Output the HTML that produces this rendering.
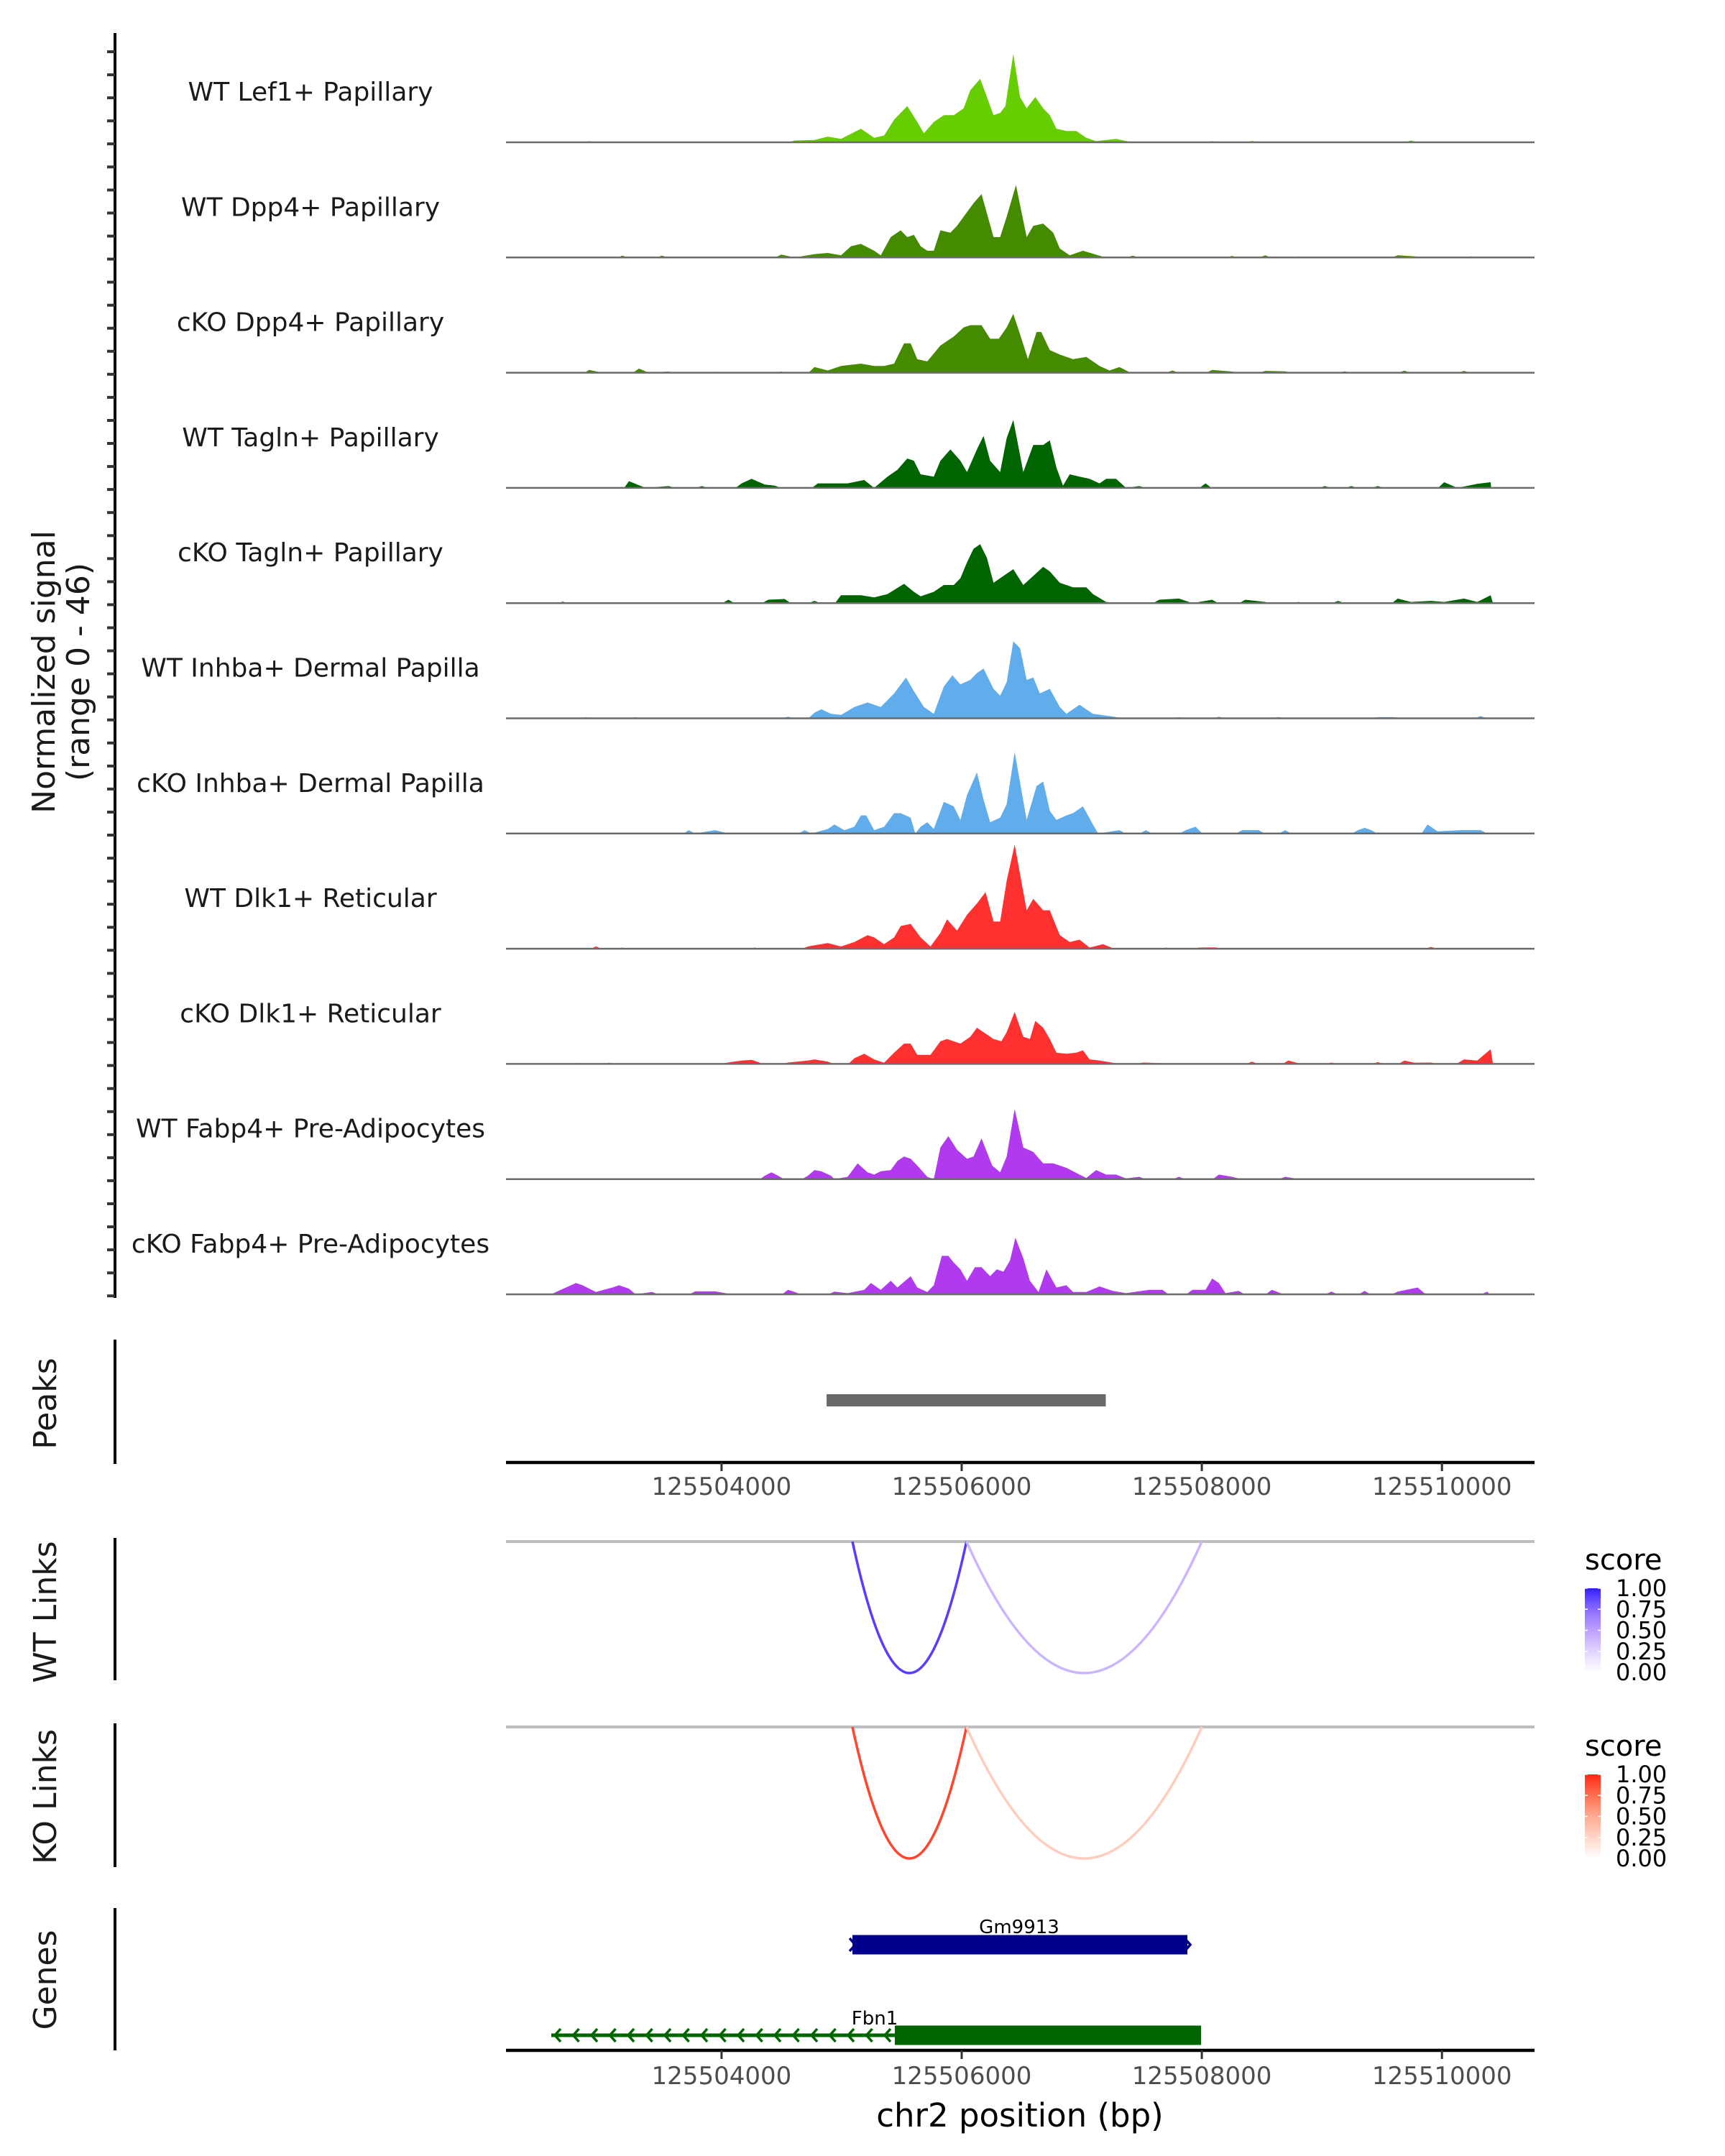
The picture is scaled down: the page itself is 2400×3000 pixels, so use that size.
<!DOCTYPE html>
<html><head><meta charset="utf-8"><style>
html,body{margin:0;padding:0;background:#fff;}
svg{display:block;font-family:"DejaVu Sans","Liberation Sans",sans-serif;}
</style></head><body>
<svg id="chart" width="2400" height="3000" viewBox="0 0 2400 3000" xmlns="http://www.w3.org/2000/svg">
<rect width="2400" height="3000" fill="#fff"/>
<g id="tracks"></g>
<g id="axes"></g>
<text transform="translate(76,935) rotate(-90)" text-anchor="middle" font-size="44" fill="#1a1a1a">Normalized signal</text>
<text transform="translate(124,935) rotate(-90)" text-anchor="middle" font-size="44" fill="#1a1a1a">(range 0 - 46)</text>
<text transform="translate(78,1953) rotate(-90)" text-anchor="middle" font-size="44" fill="#1a1a1a">Peaks</text>
<text transform="translate(78,2243) rotate(-90)" text-anchor="middle" font-size="44" fill="#1a1a1a">WT Links</text>
<text transform="translate(78,2500) rotate(-90)" text-anchor="middle" font-size="44" fill="#1a1a1a">KO Links</text>
<text transform="translate(78,2755) rotate(-90)" text-anchor="middle" font-size="44" fill="#1a1a1a">Genes</text>
<text x="1419" y="2959" text-anchor="middle" font-size="45" fill="#000">chr2 position (bp)</text>
</svg>
<script>
// ---- data ----
const trackLabels = ["WT Lef1+ Papillary","WT Dpp4+ Papillary","cKO Dpp4+ Papillary","WT Tagln+ Papillary","cKO Tagln+ Papillary","WT Inhba+ Dermal Papilla","cKO Inhba+ Dermal Papilla","WT Dlk1+ Reticular","cKO Dlk1+ Reticular","WT Fabp4+ Pre-Adipocytes","cKO Fabp4+ Pre-Adipocytes"];
const trackColors = ["#66cd00","#458b00","#458b00","#006400","#006400","#61adec","#61adec","#ff3030","#ff3030","#b23aee","#b23aee"];

const lef1Pos = [125502898,125503836,125504609,125504774,125504885,125504995,125505161,125505271,125505354,125505437,125505547,125505630,125505685,125505768,125505851,125505934,125506016,125506072,125506154,125506210,125506265,125506320,125506364,125506430,125506486,125506541,125506613,125506679,125506734,125506789,125506872,125506955,125507038,125507120,125507286,125507396,125508086,125508418,125509742,125510350,125510405];
const lef1Val = [0.5,0.3,0.8,1,2.5,1.5,6,2,3,10,16,9,4,9,12,12,15,23,28,20,12,13,16,39,20,15,20,15,12,6,5,5,2,0.5,1.5,0.3,0.5,0.6,0.8,0.2,0];

const wtDpp4Pos = [125503174,125503505,125504498,125504609,125504774,125504885,125504995,125505078,125505161,125505271,125505326,125505409,125505492,125505547,125505602,125505658,125505713,125505768,125505823,125505906,125505961,125506016,125506099,125506165,125506265,125506320,125506375,125506452,125506541,125506596,125506679,125506762,125506817,125506900,125507010,125507148,125507424,125507479,125508252,125508528,125508804,125509632,125509798,125510239,125510405];
const wtDpp4Val = [0.8,0.8,1.3,0,1.5,2,1,5,6,3,1,9,12,9,10,5,3,3,12,11,14,18,24,28,9,9,18,32,9,14,15,11,4,1,3,0.8,0.8,0,0.7,1,0.5,1,0.4,0.5,0];

const koDpp4Pos = [125502898,125503008,125503312,125503394,125503560,125503946,125504498,125504774,125504885,125504995,125505161,125505271,125505354,125505437,125505520,125505575,125505630,125505713,125505823,125505934,125506016,125506072,125506127,125506165,125506237,125506309,125506375,125506430,125506486,125506552,125506624,125506662,125506734,125506817,125506927,125507038,125507148,125507231,125507314,125507396,125507755,125508086,125508252,125508528,125508694,125509190,125509687,125510184,125510405];
const koDpp4Val = [1.2,0,1.8,0,0.5,0.4,0.5,2.5,1,3,4,3,3,4,13,13,6,5,12,16,20,21,21,21,15,15,20,26,17,6,18,18,10,8,6,7,3,1,2.5,0.3,1,1.2,0.5,0.8,0.6,0.6,0.9,0.8,0];

const wtTaglnPos = [125503229,125503367,125503560,125503836,125504167,125504250,125504360,125504443,125504802,125504940,125505050,125505188,125505271,125505382,125505464,125505547,125505602,125505658,125505768,125505823,125505906,125505989,125506044,125506127,125506182,125506237,125506320,125506375,125506430,125506513,125506596,125506679,125506734,125506789,125506844,125506900,125506982,125507065,125507148,125507203,125507286,125507369,125507479,125508031,125509025,125509246,125509466,125510018,125510129,125510294,125510405,125510410];
const wtTaglnVal = [3,0,0.8,0.8,2,4,1.5,1,2,2,2,3.5,0,5,8,13,12,6,5,12,17,12,7,17,23,12,7,22,30,7,19,19,21,9,1,6,5,4,2,4,4,0,0.8,2,0.8,0.8,0.8,2.5,0,1.8,2.5,0];

const koTaglnPos = [125502677,125504057,125504388,125504526,125504774,125504995,125505161,125505271,125505382,125505520,125505602,125505658,125505768,125505851,125505934,125505989,125506044,125506099,125506154,125506210,125506265,125506348,125506430,125506513,125506596,125506679,125506734,125506817,125506927,125507038,125507093,125507203,125507314,125507645,125507810,125507921,125508086,125508362,125508528,125508804,125509135,125509632,125509742,125509908,125510018,125510184,125510294,125510405];
const koTaglnVal = [0.6,1.5,1.5,1.8,1,3.5,3.5,2.5,4,8.5,5,3,5,8,8,11,18,24,26,20,9,12,15,8,12,16,14,9,7,7,4,0.5,0,1.5,2,0,1.5,1.5,0.5,0.5,1,2,0.5,1,0.5,2,0.5,3.5];

const wtInhbaPos = [125502870,125503284,125504554,125504774,125504830,125504912,125504995,125505106,125505216,125505326,125505437,125505536,125505602,125505685,125505768,125505851,125505923,125505989,125506072,125506127,125506182,125506265,125506320,125506375,125506430,125506486,125506541,125506596,125506651,125506734,125506817,125506872,125506982,125507093,125507258,125507341,125507810,125508142,125508638,125509466,125509604,125510322,125510377];
const wtInhbaVal = [0.5,0.5,0.7,2.5,4,2,1.5,5,7,5,11,18,12,5,2,14,19,15,17,20,22,13,10,16,34,31,17,18,11,13,5,2,6,2,0.8,0,0.5,0.7,0.6,0.5,0.5,1,0];

const koInhbaPos = [125503726,125503781,125503946,125504057,125504692,125504747,125504885,125504940,125505023,125505106,125505161,125505205,125505271,125505354,125505437,125505492,125505575,125505613,125505658,125505713,125505768,125505851,125505934,125505989,125506044,125506127,125506182,125506237,125506320,125506375,125506441,125506541,125506624,125506679,125506734,125506789,125506872,125506927,125507010,125507093,125507137,125507314,125507534,125507866,125507948,125508004,125508335,125508473,125508694,125509301,125509356,125509411,125509880,125509963,125510156,125510322,125510377];
const koInhbaVal = [1.5,0,1.5,0,1.5,0,2,4,1.5,3,8,8,1.5,3,9,9,7,0,3,5,2,14,12,6,17,27,15,5,7,13,36,6,21,23,10,6,8,9,12,4,0,1.5,1.5,1.5,3,0,1.5,1.5,1.5,1.5,2.5,1.5,4,1,1.5,1.5,0];

const wtDlk1Pos = [125502953,125503174,125504002,125504278,125504498,125504719,125504885,125504995,125505106,125505216,125505271,125505354,125505437,125505492,125505575,125505658,125505740,125505823,125505878,125505961,125506044,125506127,125506199,125506265,125506320,125506375,125506441,125506541,125506596,125506679,125506734,125506817,125506900,125506982,125507065,125507176,125507258,125507700,125507976,125508114,125508473,125508749,125509908,125510377];
const wtDlk1Val = [1,0.5,0.3,0.5,0.3,1,2.5,1,3,6,5,2,5,10,11,5,1,7,13,8,15,20,25,12,12,30,46,17,22,17,17,6,3,4,0.5,2,0.3,0.5,0.5,0.6,0.3,0.4,0.8,0.3];

const koDlk1Pos = [125502787,125503063,125503284,125504002,125504167,125504250,125504333,125504554,125504719,125504774,125504885,125505106,125505188,125505271,125505354,125505437,125505520,125505575,125505630,125505740,125505823,125505878,125505989,125506072,125506127,125506182,125506265,125506331,125506375,125506441,125506513,125506568,125506613,125506679,125506734,125506789,125506872,125506955,125507010,125507065,125507148,125507258,125507507,125507700,125508418,125508721,125508804,125509080,125509466,125509687,125509770,125509908,125510129,125510184,125510294,125510405];
const koDlk1Val = [0.4,0.5,0.3,0.2,1.5,1.8,0.3,0.6,1.5,2,1,2.5,4.5,2,0.5,5,9,9,4,4,10,11,9,12,16,14,11,10,14,23,12,11,19,16,11,5,4.5,5,6,2,1.5,0.5,0.6,0.3,1,1.5,0.3,0.6,0.8,1.5,0.5,0.6,0.3,2,1.5,6.5];

const wtFabp4Pos = [125504360,125504416,125504471,125504719,125504774,125504830,125504912,125504940,125505050,125505133,125505216,125505271,125505326,125505409,125505464,125505520,125505575,125505630,125505713,125505768,125505823,125505889,125505961,125506044,125506099,125506165,125506254,125506320,125506375,125506441,125506513,125506596,125506679,125506762,125506872,125506982,125507038,125507120,125507203,125507286,125507369,125507479,125507810,125508142,125508252,125508307,125508694,125508776];
const wtFabp4Val = [1.5,3,1.5,1.5,4,3.5,1.5,0,1,7,3,2,3.5,4,8,10,9,6,1,0,14,19,13,9,10,18,6,3,10,31,14,12,7,7,5,2,0.5,4,2,2,0.3,1,1,2,1,0.3,1,0.3];

const koFabp4Pos = [125502622,125502787,125502842,125502953,125503091,125503146,125503229,125503284,125503422,125503781,125503946,125504057,125504554,125504609,125504940,125505050,125505188,125505244,125505326,125505409,125505464,125505575,125505630,125505713,125505768,125505834,125505889,125505934,125505989,125506044,125506110,125506165,125506237,125506292,125506348,125506403,125506447,125506513,125506568,125506640,125506706,125506789,125506872,125506927,125507038,125507148,125507258,125507369,125507562,125507672,125507921,125508031,125508086,125508142,125508197,125508307,125508583,125508666,125509080,125509356,125509632,125509798,125509853,125510377];
const koFabp4Val = [1,5,4,1,3,4,2.5,0,1,1.3,1.3,0.3,2,1,1.2,0.5,2,5,2,6,3,8,3,1,4,17,17,14,11,6,12,12,8,11,10,15,25,16,6,1,11,3,4,1,1,3.5,1.5,0.5,2,2,2,2,7,5,0.5,1.5,2,0.3,1.2,1.5,1.2,3,0.5,1.2];

const trackPos = [lef1Pos,wtDpp4Pos,koDpp4Pos,wtTaglnPos,koTaglnPos,wtInhbaPos,koInhbaPos,wtDlk1Pos,koDlk1Pos,wtFabp4Pos,koFabp4Pos];
const trackVal = [lef1Val,wtDpp4Val,koDpp4Val,wtTaglnVal,koTaglnVal,wtInhbaVal,koInhbaVal,wtDlk1Val,koDlk1Val,wtFabp4Val,koFabp4Val];

const xTicks = [125504000,125506000,125508000,125510000];
const xTickLabels = ["125504000","125506000","125508000","125510000"];
const peakStart = [125504875];
const peakEnd = [125507200];
const wtLinkStart = [125505090,125506040];
const wtLinkEnd = [125506040,125508000];
const wtLinkScore = [0.9,0.4];
const koLinkStart = [125505090,125506040];
const koLinkEnd = [125506040,125508000];
const koLinkScore = [0.9,0.3];
const legendTicks = [1.00,0.75,0.50,0.25,0.00];
const legendLabels = ["1.00","0.75","0.50","0.25","0.00"];
const geneNames = ["Gm9913","Fbn1"];
const geneStart = [125505090,125502582];
const geneEnd = [125507880,125507994];
const geneThickStart = [125505090,125505443];
const geneStrand = ["+","-"];
const geneColors = ["#00008b","#006400"];

// ---- scales ----
const NS="http://www.w3.org/2000/svg";
const X0=704, X1=2135;
function xs(g){return 1338+(g-125506000)*(334.1/2000);}
const trackBase=(i)=>198+i*160.3;
const vScale=3.15;
function mk(tag,attrs,parent){const e=document.createElementNS(NS,tag);for(const k in attrs)e.setAttribute(k,attrs[k]);parent.appendChild(e);return e;}
const svg=document.getElementById('chart');
const tracks=document.getElementById('tracks');
const axes=document.getElementById('axes');

trackLabels.forEach((lab,i)=>{
  const b=trackBase(i);
  const g=mk('g',{},tracks);
  
  
  const P=trackPos[i],V=trackVal[i];
  const pts=[];
  for(let k=0;k<P.length;k++){
    pts.push([P[k],V[k]]);
    if(k<P.length-1 && P[k+1]-P[k]>200){
      pts.push([P[k]+50,0]);pts.push([P[k+1]-50,0]);
    }
  }
  let d='M'+xs(pts[0][0]-40).toFixed(1)+','+b;
  pts.forEach(p=>{d+=' L'+xs(p[0]).toFixed(1)+','+(b-p[1]*vScale).toFixed(1);});
  d+=' L'+xs(pts[pts.length-1][0]+20).toFixed(1)+','+b+' Z';
  const a=mk('path',{d:d,fill:trackColors[i]},g);
  
  
  const bl=mk('line',{x1:X0,x2:X1,y1:b,y2:b,stroke:'#6b6b6b','stroke-width':2.5},g);
  
  
  const t=mk('text',{x:432,y:b-58,'text-anchor':'middle','font-size':36,fill:'#1a1a1a'},g);
  t.textContent=lab;
  
  
});

// left signal axis
const la=mk('line',{x1:160,x2:160,y1:46,y2:1806,stroke:'#000','stroke-width':4},axes);


for(let y=72;y<=1806;y+=32.06){
  const tk=mk('line',{x1:149,x2:160,y1:y.toFixed(1),y2:y.toFixed(1),stroke:'#333','stroke-width':4},axes);
  
  
}
// panel axis lines
[[1864,2037],[2140,2338],[2398,2598],[2655,2853]].forEach(r=>{
  const l=mk('line',{x1:160,x2:160,y1:r[0],y2:r[1],stroke:'#000','stroke-width':4},axes);
  
  
});

// peaks
peakStart.forEach((s,i)=>{
  const r=mk('rect',{x:xs(s),y:1940,width:xs(peakEnd[i])-xs(s),height:17,fill:'#696969'},svg);
  
  
});

// x axes
function xAxis(y,ly,name){
  const g=mk('g',{},svg);
  
  
  mk('line',{x1:X0,x2:X1,y1:y,y2:y,stroke:'#000','stroke-width':4.5},g);
  xTicks.forEach((t,i)=>{
    mk('line',{x1:xs(t),x2:xs(t),y1:y,y2:y+12,stroke:'#333','stroke-width':3},g);
    const tx=mk('text',{x:xs(t),y:ly,'text-anchor':'middle','font-size':34,fill:'#4d4d4d'},g);
    tx.textContent=xTickLabels[i];
    
    
  });
}
xAxis(2035,2080,'peaks-x-axis');
xAxis(2853,2900,'genes-x-axis');

// links
function ramp(stops,s){
  const n=stops.length-1;const p=Math.min(n-1e-9,Math.max(0,s*n));const k=Math.floor(p);const f=p-k;
  const a=stops[k],b=stops[k+1];
  return 'rgb('+[0,1,2].map(j=>Math.round(a[j]+(b[j]-a[j])*f)).join(',')+')';
}
const blueStops=[[255,255,255],[226,212,255],[190,160,255],[140,110,255],[50,30,255]];
const redStops=[[255,255,255],[255,214,200],[255,170,145],[255,112,80],[255,40,20]];
function links(base,S,E,SC,stops,name,ly){
  const g=mk('g',{},svg);
  
  
  mk('line',{x1:X0,x2:X1,y1:base,y2:base,stroke:'#bebebe','stroke-width':4},g);
  const depth=183;
  S.forEach((s,i)=>{
    const x1=xs(s),x2=xs(E[i]);
    const p=mk('path',{d:`M${x1},${base} Q${(x1+x2)/2},${base+2*depth} ${x2},${base}`,fill:'none',stroke:ramp(stops,SC[i]),'stroke-width':3.5},g);
    
    
  });
  const lg=mk('g',{},svg);
  
  
  const st=mk('text',{x:2205,y:ly-26,'font-size':40,fill:'#000'},lg);
  st.textContent='score';
  const gid=name+'-grad';
  const defs=mk('defs',{},lg);
  const lgd=mk('linearGradient',{id:gid,x1:0,y1:0,x2:0,y2:1},defs);
  for(let k=0;k<=10;k++){mk('stop',{offset:k/10,'stop-color':ramp(stops,1-k/10)},lgd);}
  mk('rect',{x:2205,y:ly,width:22,height:117,fill:`url(#${gid})`},lg);
  legendTicks.forEach((t,i)=>{
    const yy=ly+(1-t)*117;
    mk('line',{x1:2205,x2:2209,y1:yy,y2:yy,stroke:'#fff','stroke-width':1.5},lg);
    mk('line',{x1:2223,x2:2227,y1:yy,y2:yy,stroke:'#fff','stroke-width':1.5},lg);
    const tx=mk('text',{x:2248,y:yy+11,'font-size':32,fill:'#000'},lg);
    tx.textContent=legendLabels[i];
  });
}
links(2145,wtLinkStart,wtLinkEnd,wtLinkScore,blueStops,'wt-links',2210);
links(2403,koLinkStart,koLinkEnd,koLinkScore,redStops,'ko-links',2469);

// genes
const gy=[2706,2832];
const gly=[2690,2817];
const glx=[1418,1217];
geneNames.forEach((nm,i)=>{
  const g=mk('g',{},svg);
  
  
  const c=geneColors[i],y=gy[i];
  const xa=xs(geneStart[i]),xb=xs(geneEnd[i]),xt=xs(geneThickStart[i]);
  mk('line',{x1:xa,x2:xt,y1:y,y2:y,stroke:c,'stroke-width':5},g);
  mk('rect',{x:xt,y:y-13.5,width:xb-xt,height:27,fill:c},g);
  if(geneStrand[i]==='-'){
    for(let x=xa+5;x<xt;x+=25.5){mk('path',{d:`M${x+8},${y-9} L${x},${y} L${x+8},${y+9}`,fill:'none',stroke:c,'stroke-width':3.5},g);}
  } else {
    mk('path',{d:`M${xa-4},${y-9} L${xa+4},${y} L${xa-4},${y+9}`,fill:'none',stroke:c,'stroke-width':3.5},g);
    mk('path',{d:`M${xb-4},${y-9} L${xb+4},${y} L${xb-4},${y+9}`,fill:'none',stroke:c,'stroke-width':3.5},g);
  }
  const t=mk('text',{x:glx[i],y:gly[i],'text-anchor':'middle','font-size':26,fill:'#000'},g);
  t.textContent=nm;
  
  
});
</script>
</body></html>
